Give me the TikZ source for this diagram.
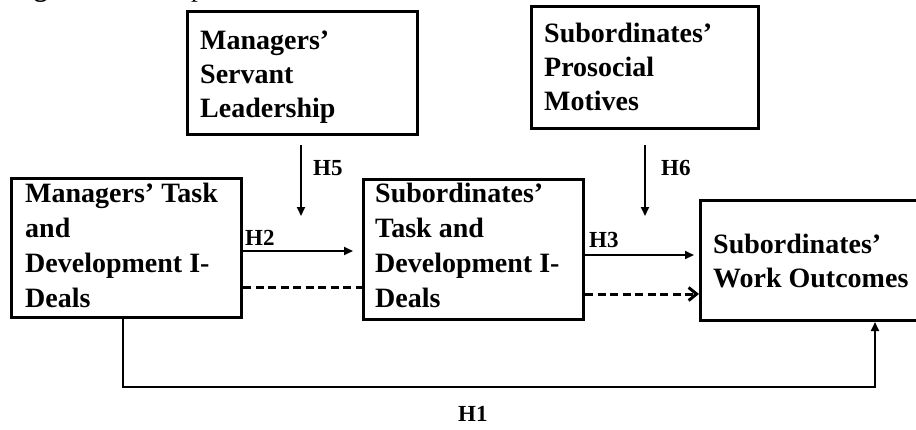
\documentclass[tikz,border=0pt]{standalone}
\usepackage{fontspec}
\setmainfont{Liberation Serif}
\usetikzlibrary{arrows.meta}
\begin{document}
\begin{tikzpicture}[x=1pt,y=-1pt,
  box/.style={draw,line width=3pt,minimum width=#1,inner sep=0pt,anchor=north west,rectangle},
  boxtxt/.style={font=\fontsize{28}{34}\selectfont\bfseries,align=left,anchor=base west,inner sep=0pt},
  hlab/.style={font=\fontsize{23}{26}\selectfont\bfseries,anchor=base west,inner sep=0pt},
  solidarrow/.style={line width=1.8pt,-{Triangle[length=9pt,width=8pt]}},
  dashline/.style={line width=3pt,dash pattern=on 8pt off 4.5pt},
]
\useasboundingbox (0,0) rectangle (916,429);
\clip (0,0) rectangle (916,429);
% caption fragment (cut by the top edge)
\node[font=\fontsize{27}{30}\selectfont,anchor=base west,inner sep=0pt] (cap) at (10,-4) {\textbf{Figure 1.} Conceptual Model};
% boxes
\node[box=230pt,minimum height=123pt] (msl) at (186,10) {};
\node[box=227pt,minimum height=122pt] (spm) at (530,5) {};
\node[box=230pt,minimum height=139pt] (mtd) at (10,177) {};
\node[box=220pt,minimum height=140pt] (std) at (362,178) {};
\node[box=240pt,minimum height=120pt] (swo) at (699,199) {};
% texts (anchored at the baseline of the last line)
\node[boxtxt] (t1) at (200,117) {Managers’\\Servant\\Leadership};
\node[boxtxt] (t2) at (544,110) {Subordinates’\\Prosocial\\Motives};
\node[boxtxt,font=\fontsize{28}{34.7}\selectfont\bfseries] (t3) at (25,307) {Managers’ Task\\and\\Development I-\\Deals};
\node[boxtxt,font=\fontsize{28}{34.7}\selectfont\bfseries] (t4) at (375,307) {Subordinates’\\Task and\\Development I-\\Deals};
\node[boxtxt] (t5) at (713,287) {Subordinates’\\Work Outcomes};
% moderator arrows
\coordinate (h5s) at (301,145);
\coordinate (h5e) at (301,216);
\draw[solidarrow] (h5s) -- (h5e);
\node[hlab] (h5) at (313,175) {H5};
\coordinate (h6s) at (645,145);
\coordinate (h6e) at (645,216);
\draw[solidarrow] (h6s) -- (h6e);
\node[hlab] (h6) at (661,175) {H6};
% H2
\draw[solidarrow] (mtd.east |- 0,251) -- (353,251);
\node[hlab] (h2) at (245,245) {H2};
\draw[dashline] (mtd.east |- 0,287) -- (std.west |- 0,287);
% H3
\draw[solidarrow] (std.east |- 0,255) -- (694,255);
\node[hlab] (h3) at (589,247) {H3};
\draw[dashline,-{Straight Barb[length=8pt,width=13pt,line width=3pt]}] (std.east |- 0,294) -- (swo.west |- 0,294);
% H1
\draw[solidarrow] (mtd.south -| 123,0) -- (123,387) -- (875,387) -- (swo.south -| 875,0);
\node[hlab] (h1) at (458,421) {H1};
\end{tikzpicture}
\end{document}
